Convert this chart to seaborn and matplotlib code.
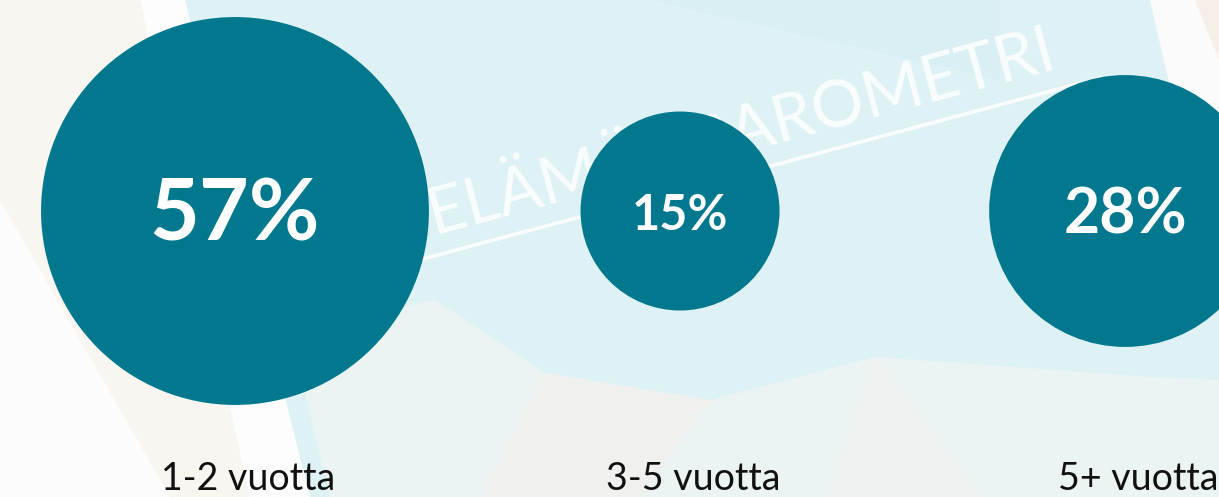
import matplotlib
matplotlib.use("Agg")
import matplotlib.pyplot as plt
import seaborn as sns

# Data
categories = ["1-2 vuotta", "3-5 vuotta", "5+ vuotta"]
shares = [57, 15, 28]
share_labels = ["57%", "15%", "28%"]

TEAL = "#01788e"
W, H = 1219, 497
value_font_sizes = [62, 35, 45]


def px(x, y):
    """Pixel coordinates (top-left origin) -> axes fraction."""
    return x / W, 1 - y / H


def draw_background(ax):
    """Light photo-like backdrop of the reference (decoration only)."""
    ax.add_patch(plt.Rectangle((0, 0), 1, 1, transform=ax.transAxes,
                               color="#def2f5", zorder=0))
    shapes = [
        ([(0, 0), (140, 0), (255, 497), (0, 497)], "#f9f6f2"),
        ([(0, 200), (170, 497), (0, 497)], "#fcfcfc"),
        ([(140, 0), (185, 0), (310, 497), (250, 497)], "#fdfdfd"),
        ([(290, 330), (435, 300), (545, 373), (711, 400), (875, 357),
          (1151, 377), (1219, 380), (1219, 497), (330, 497)], "#ebf4f3"),
        ([(545, 373), (711, 400), (640, 497), (480, 497)], "#f0f1ef"),
        ([(875, 357), (830, 497), (980, 497)], "#eff2f0"),
        ([(650, 0), (1000, 0), (1000, 80)], "#daeff3"),
        ([(1150, 0), (1219, 0), (1219, 300)], "#fbfbfb"),
        ([(1195, 0), (1219, 0), (1219, 60)], "#f6efe8"),
    ]
    for pts, col in shapes:
        ax.add_patch(plt.Polygon([px(*p) for p in pts], closed=True,
                                 transform=ax.transAxes, color=col,
                                 lw=0, zorder=1))
    # watermark
    ax.text(*px(434, 234), "ELÄMÄNBAROMETRI", transform=ax.transAxes,
            rotation=15, rotation_mode="anchor", ha="left", va="baseline",
            fontsize=47, family="Lato", color="white", alpha=0.85, zorder=2)
    (x0, y0), (x1, y1) = px(400, 265), px(1100, 78)
    ax.plot([x0, x1], [y0, y1], transform=ax.transAxes, color="white",
            lw=2.5, alpha=0.9, zorder=2)


fig = plt.figure(figsize=(12.19, 4.97), dpi=100)
ax = fig.add_axes([0, 0, 1, 1])
draw_background(ax)

# bubble area proportional to the share
sns.scatterplot(x=categories, y=[0] * len(shares), size=shares,
                sizes=(0, 78000), size_norm=(0, 57), color=TEAL,
                linewidth=0, legend=False, ax=ax, zorder=3)

ax.set_xlim(-0.528, 2.211)
ax.set_ylim(-286, 211)
ax.axis("off")

for i, (lab, cat, fs) in enumerate(zip(share_labels, categories, value_font_sizes)):
    ax.text(i, -5, lab, ha="center", va="center", fontsize=fs,
            fontweight="bold", family="Lato", color="white", zorder=4)
    ax.text(i + 0.03, -279, cat, ha="center", va="baseline", fontsize=27,
            family="Lato", color="#111111", zorder=4)

fig.savefig("out.png", dpi=100)
